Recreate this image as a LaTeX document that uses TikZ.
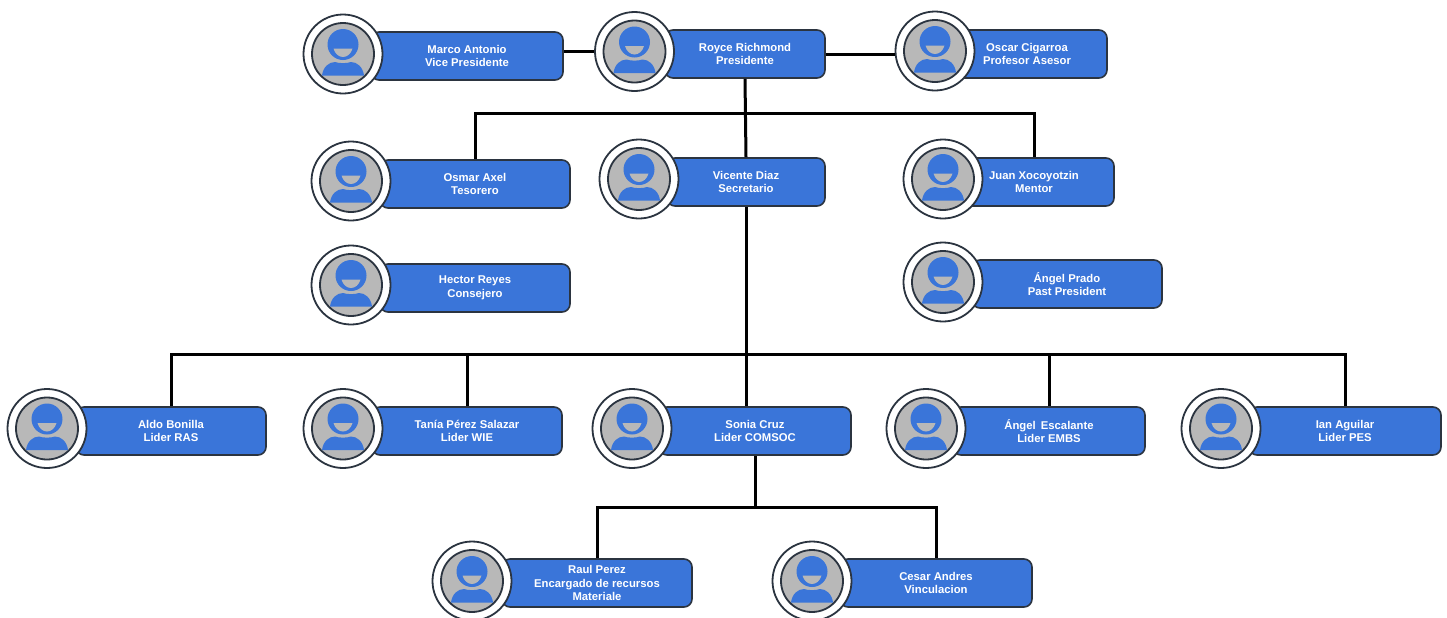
\documentclass[tikz,border=0pt]{standalone}
\usepackage{fontspec}
\setmainfont{Liberation Sans}
\definecolor{boxblue}{HTML}{3A75D9}
\definecolor{avgray}{HTML}{B8B8B8}
\definecolor{edgedark}{HTML}{2B3440}
\tikzset{
  x=.5pt,y=-.5pt,
  boxnode/.style={draw=edgedark,line width=.8pt,fill=boxblue,rounded corners=4pt,minimum height=24pt,inner sep=0pt,
    text=white,align=center,font=\fontsize{5.65}{6.75}\selectfont\bfseries},
  avatarring/.style={circle,draw=edgedark,line width=.9pt,fill=white,minimum size=39.5pt,inner sep=0pt},
  conn/.style={draw=black,line width=1.5pt}
}
\newcommand{\person}[7]{%
  \node[boxnode,minimum width=#5pt] (#1) at (#4,#6) {#7};
  \node[avatarring] (#1A) at (#2,#3) {};
  \begin{scope}[shift={(#2,#3)}]
    \fill[avgray,draw=edgedark,line width=.9pt] (0,0) circle[radius=31];
    \fill[boxblue] (0,-9.5) circle[radius=15.5];
    \fill[avgray] (-9.5,-5.5) -- (9.5,-5.5) .. controls (8,0) and (4,3) .. (0,3) .. controls (-4,3) and (-8,0) .. (-9.5,-5.5) -- cycle;
    \fill[boxblue] (-21,21.5) .. controls (-20,13) and (-14,8) .. (-8,8) .. controls (-4,9.5) and (4,9.5) .. (8,8) .. controls (14,8) and (20,13) .. (21,21.5) -- cycle;
  \end{scope}
}
\begin{document}
\begin{tikzpicture}
\useasboundingbox (0,0) rectangle (1447,617);
\fill[white] (0,0) rectangle (1447,617);
\person{marco}{343}{54}{467}{96}{56}{Marco Antonio\\Vice Presidente}
\person{royce}{634.5}{51.5}{745}{80}{54}{Royce Richmond\\Presidente}
\person{oscar}{935}{51}{1027}{80}{54}{Oscar Cigarroa\\Profesor Asesor}
\person{osmar}{351}{181}{475}{95}{184}{Osmar Axel\\Tesorero}
\person{vicente}{639}{179}{746}{79}{182}{Vicente Diaz\\Secretario}
\person{juan}{943}{179}{1034}{80}{182}{Juan Xocoyotzin\\Mentor}
\person{hector}{351}{285}{475}{95}{288}{Hector Reyes\\Consejero}
\person{prado}{943}{282}{1067}{95}{284}{Ángel Prado\\Past President}
\person{aldo}{47}{428.5}{171}{95}{431}{Aldo Bonilla\\Lider RAS}
\person{tania}{343}{428.5}{467}{95}{431}{Tanía Pérez Salazar\\Lider WIE}
\person{sonia}{632}{428.5}{755}{96}{431}{Sonia Cruz\\Lider COMSOC}
\person{escalante}{926}{428.5}{1049}{96}{431}{Ángel\hspace{1pt} Escalante\\Lider EMBS}
\person{ian}{1221}{428.5}{1345}{96}{431}{Ian Aguilar\\Lider PES}
\person{raul}{472}{581}{597}{95}{583}{Raul Perez\\Encargado de recursos\\Materiale}
\person{cesar}{812}{581}{936}{96}{583}{Cesar Andres\\Vinculacion}
\coordinate (busa) at (744.5,113);
\coordinate (busb) at (745.5,354);
\coordinate (busc) at (755,507);
\draw[conn] (royceA.west) -- (royceA.west -| marco.east);
\draw[conn] (royce.east) -- (royce.east -| oscarA.west);
\draw[conn] (royce.south) -- (vicente.north);
\draw[conn] (osmar.north) |- (busa) -| (juan.north);
\draw[conn] (vicente.south) -- (vicente.south |- sonia.north);
\draw[conn] (aldo.north) |- (busb) -| (ian.north);
\draw[conn] (tania.north) |- (busb);
\draw[conn] (escalante.north) |- (busb);
\draw[conn] (sonia.south) -- (busc);
\draw[conn] (raul.north) |- (busc) -| (cesar.north);
\end{tikzpicture}
\end{document}
